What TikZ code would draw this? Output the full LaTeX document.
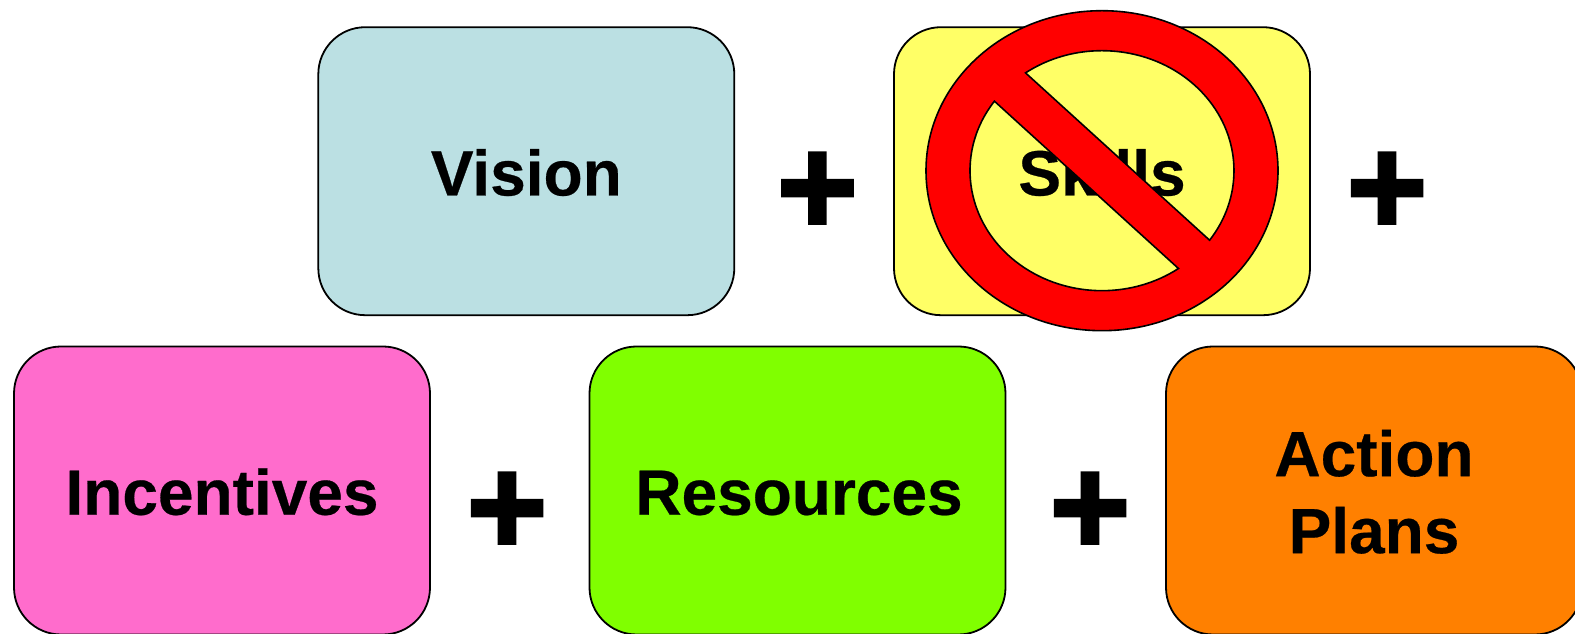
\documentclass[tikz,border=0pt]{standalone}
\usepackage{fontspec}
\setmainfont{Liberation Sans}[BoldFeatures={FakeBold=0.4}]
\newfontfamily\plusfont[FakeBold=2.4]{Liberation Sans Bold}
\definecolor{cvision}{HTML}{BBE0E3}
\definecolor{cskills}{HTML}{FFFF66}
\definecolor{cinc}{HTML}{FF6CCC}
\definecolor{cres}{HTML}{80FF00}
\definecolor{cact}{HTML}{FF8000}
\tikzset{
  boxnode/.style={draw=black,line width=1.8pt,rounded corners=47pt,minimum width=416pt,minimum height=288pt,inner sep=0pt,font=\fontsize{64}{77}\selectfont\bfseries,align=center},
  oneline/.style={text height=48.5pt,text depth=0pt},
  plusnode/.style={inner sep=0pt,anchor=base,font=\fontsize{138}{138}\selectfont\plusfont},
  ring/.style={draw=black,line width=1.6pt,fill=red,even odd rule}
}
\begin{document}
\begin{tikzpicture}[x=1pt,y=1pt]
\useasboundingbox (0,0) rectangle (1575,634);
\node[boxnode,oneline,fill=cvision] (vision) at (526.3,462.8) {Vision};
\node[boxnode,oneline,fill=cskills] (skills) at (1102,462.8) {Skills};
\node[boxnode,oneline,fill=cinc] (inc) at (222,143.5) {Incentives};
\node[boxnode,oneline,fill=cres] (res) at (797.5,143.5) {\hspace{3pt}Resources};
\node[boxnode,fill=cact] (act) at (1374,143.5) {\rule{0pt}{49pt}Action\\Plans};
\node[plusnode] (p1) at (817.4,400) {+};
\node[plusnode] (p2) at (1387,400) {+};
\node[plusnode] (p3) at (507,80) {+};
\node[plusnode] (p4) at (1090,80) {+};
\path[ring] (1102,463.3) ellipse[x radius=176,y radius=160]
  (1102,463.3) ++(125.4:132 and 120) arc[start angle=125.4,end angle=-35.4,x radius=132,y radius=120] -- cycle
  (1102,463.3) ++(144.6:132 and 120) arc[start angle=144.6,end angle=305.4,x radius=132,y radius=120] -- cycle;
\end{tikzpicture}
\end{document}
